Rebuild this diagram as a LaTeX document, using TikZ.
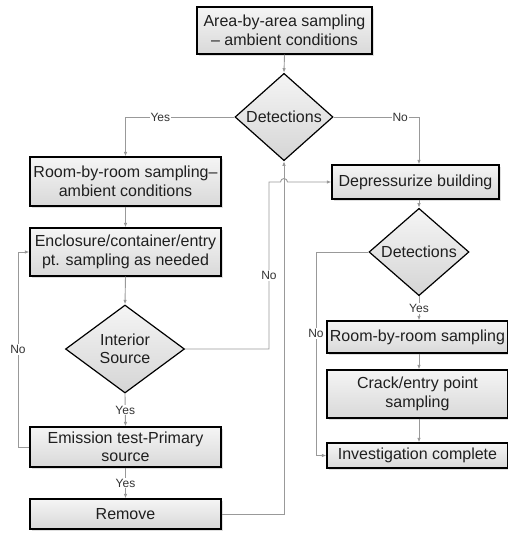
\documentclass[tikz,border=0pt]{standalone}
\usepackage{fontspec}
\setmainfont{Liberation Sans}
\usetikzlibrary{shapes.geometric,arrows.meta,shadows,calc}
\begin{document}
\begin{tikzpicture}[x=1pt,y=-1pt,
  font=\fontsize{16}{18.5}\selectfont,
  every node/.style={text=black!88},
  stepbox/.style={draw=black,line width=1.2pt,rectangle,inner sep=0pt,align=center,
    top color=gray!8,bottom color=gray!30,
    drop shadow={shadow xshift=2pt,shadow yshift=-2pt,opacity=0.25,fill=gray}},
  decision/.style={draw=black,line width=1.2pt,diamond,inner sep=0pt,align=center,
    top color=gray!8,bottom color=gray!33},
  conn/.style={draw=gray!80,line width=0.9pt,-{Latex[length=4.5pt,width=3.5pt]}},
  lbl/.style={fill=white,inner sep=1pt,font=\fontsize{12}{14}\selectfont,text=black!80}]
\useasboundingbox (0,0) rectangle (508,533);

% boxes
\node[stepbox,minimum width=175pt,minimum height=47pt] (top) at (284.5,30.5) {Area-by-area sampling\\ -- ambient conditions};
\node[stepbox,minimum width=191pt,minimum height=49pt] (rr1) at (125.5,181.5) {Room-by-room sampling--\\ambient conditions};
\node[stepbox,minimum width=191pt,minimum height=48pt] (encl) at (125.5,252) {Enclosure/container/entry\\pt. sampling as needed};
\node[stepbox,minimum width=191pt,minimum height=40pt] (emis) at (125.5,447) {Emission test-Primary\\source};
\node[stepbox,minimum width=191pt,minimum height=30pt] (remove) at (125.5,514) {Remove};
\node[stepbox,minimum width=167pt,minimum height=34pt] (depr) at (415.5,182) {Depressurize building};
\node[stepbox,minimum width=181pt,minimum height=32pt] (rr2) at (417.5,337) {Room-by-room sampling};
\node[stepbox,minimum width=181pt,minimum height=48pt] (crack) at (417.5,394) {Crack/entry point\\sampling};
\node[stepbox,minimum width=181pt,minimum height=25pt] (inv) at (417.5,455.5) {Investigation complete};

% decisions
\node[decision,minimum width=98pt,minimum height=74pt] (d1) at (284,117) {Detections};
\node[decision,minimum width=100pt,minimum height=72pt] (d2) at (419,252) {Detections};
\node[decision,minimum width=119pt,minimum height=88pt] (src) at (125,349) {Interior\\Source};

% helper coordinates
\coordinate (k1) at (269,182);
\coordinate (hop) at (d1.south |- depr.west);
\coordinate (k2) at (18,447);
\coordinate (k3) at (316,455.5);

% connectors
\draw[conn] (top.south) -- (d1.north);
\draw[conn] (d1.west) -| node[lbl,pos=0.34]{Yes} (rr1.north);
\draw[conn] (d1.east) -| node[lbl,pos=0.39]{No} (d2.north |- depr.north);
\draw[conn] (rr1.south) -- (encl.north);
\draw[conn] (encl.south) -- (src.north);
\draw[conn] (src.south) -- node[lbl]{Yes} (emis.north);
\draw[conn] (emis.south) -- node[lbl]{Yes} (remove.north);
\draw[conn] (emis.west) -- (k2) |- node[lbl,pos=0.25]{No} (encl.west);
\draw[conn] (src.east) -| node[lbl,pos=0.72]{No} (k1) -- ($(hop)+(-3.5,0)$) arc[start angle=180,end angle=0,radius=3.5pt] -- (depr.west);
\draw[conn] (remove.east) -| (d1.south);
\draw[conn] (d2.north |- depr.south) -- (d2.north);
\draw[conn] (d2.south) -- node[lbl]{Yes} (d2.south |- rr2.north);
\draw[conn] (d2.south |- rr2.south) -- (d2.south |- crack.north);
\draw[conn] (d2.south |- crack.south) -- (d2.south |- inv.north);
\draw[conn] (d2.west) -| node[lbl,pos=0.7]{No} (k3) -- (inv.west);
\end{tikzpicture}
\end{document}
